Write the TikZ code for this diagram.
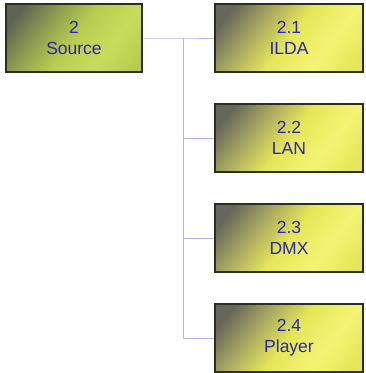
\documentclass[tikz,border=0pt]{standalone}
\usepackage{fontspec}
\setmainfont{Liberation Sans}
\definecolor{txtblue}{HTML}{2828A4}
\definecolor{linelav}{HTML}{B4B4EC}
\definecolor{boxedge}{HTML}{2A2E20}
\definecolor{ydark}{HTML}{66665A}
\definecolor{ymid}{HTML}{A8A860}
\definecolor{ymain}{HTML}{E6E658}
\definecolor{ylight}{HTML}{F4F474}
\definecolor{yend}{HTML}{E2E24E}
\definecolor{gdark}{HTML}{5E6452}
\definecolor{gmid}{HTML}{8E9C50}
\definecolor{gmain}{HTML}{B8CC50}
\definecolor{glight}{HTML}{C8DC5C}
\definecolor{gend}{HTML}{B0C646}
\pgfdeclarehorizontalshading{yelshade}{100bp}{color(0bp)=(ydark);color(22bp)=(ydark);color(36bp)=(ymid);color(50bp)=(ymain);color(66bp)=(ylight);color(80bp)=(ymain);color(100bp)=(yend)}
\pgfdeclarehorizontalshading{grnshade}{100bp}{color(0bp)=(gdark);color(22bp)=(gdark);color(36bp)=(gmid);color(50bp)=(gmain);color(66bp)=(glight);color(80bp)=(gmain);color(100bp)=(gend)}
\tikzset{
  box/.style={draw=boxedge, line width=1.4pt, minimum height=68pt, align=center,
    text=txtblue, font=\fontsize{17.5}{21}\selectfont, inner sep=0pt},
  srcbox/.style={box, minimum width=136pt, shading=grnshade, shading angle=-38},
  childbox/.style={box, minimum width=148pt, shading=yelshade, shading angle=-38},
  conn/.style={draw=linelav, line width=1pt}
}
\begin{document}
\begin{tikzpicture}[x=1pt,y=-1pt]
\useasboundingbox (0,0) rectangle (365,373);
\node[srcbox] (src) at (74,38) {2\\Source};
\node[childbox] (c1) at (289,38) {2.1\\ILDA};
\node[childbox] (c2) at (289,138) {2.2\\LAN};
\node[childbox] (c3) at (289,238) {2.3\\DMX};
\node[childbox] (c4) at (289,338) {2.4\\Player};
\coordinate (j) at (183,38);
\draw[conn] (src.east) -- (j) -- (c1.west);
\draw[conn] (j) |- (c2.west);
\draw[conn] (j) |- (c3.west);
\draw[conn] (j) |- (c4.west);
\end{tikzpicture}
\end{document}
